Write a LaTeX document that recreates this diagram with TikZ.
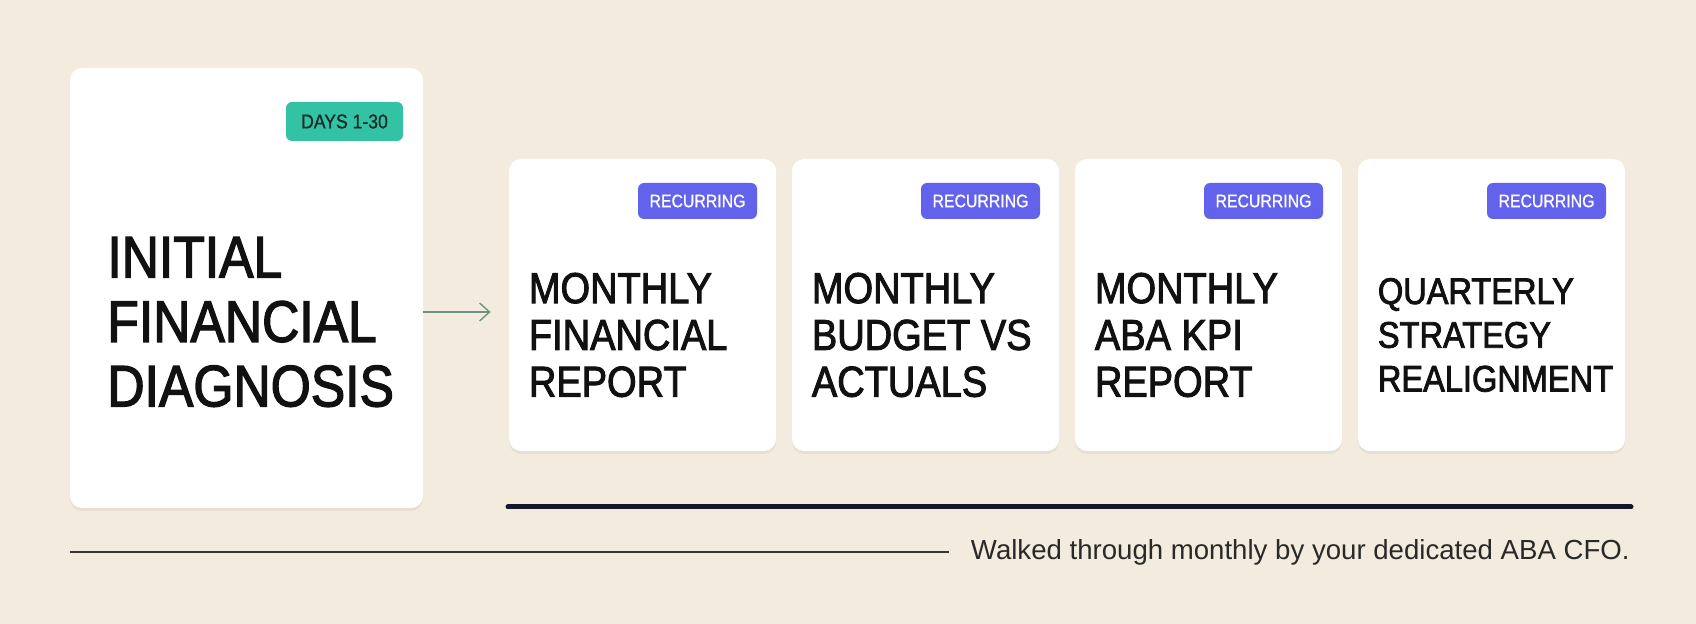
\documentclass[tikz,border=0pt]{standalone}
\usepackage{fontspec}
\setmainfont{Liberation Sans}
\newfontfamily\headfont[FakeStretch=0.88,FakeBold=2.2]{Liberation Sans}
\newfontfamily\tagfont[FakeStretch=0.88,FakeBold=0.8]{Liberation Sans}
\usetikzlibrary{shadows,arrows.meta}

\definecolor{paper}{HTML}{F3ECDE}
\definecolor{ink}{HTML}{111111}
\definecolor{teal}{HTML}{33C2A4}
\definecolor{indigo}{HTML}{6362EC}
\definecolor{sage}{HTML}{6E9484}
\definecolor{navy}{HTML}{16162A}

\tikzset{
	card/.style={fill=white, rounded corners=6pt, inner sep=0pt,
		drop shadow={shadow xshift=0pt, shadow yshift=-1.5pt, opacity=0.05, fill=black}},
	bigcard/.style={card, minimum width=176.5pt, minimum height=220pt},
	smallcard/.style={card, minimum width=133.5pt, minimum height=146pt},
	daysbadge/.style={fill=teal, rounded corners=3pt, inner sep=0pt, minimum width=58.5pt,
		minimum height=19.5pt, text=ink!85!teal, font=\tagfont\fontsize{10}{12}\selectfont},
	recurbadge/.style={fill=indigo, rounded corners=3pt, inner sep=0pt, minimum width=59.5pt,
		minimum height=18pt, text=white, font=\tagfont\fontsize{9}{11}\selectfont},
	bigtitle/.style={inner sep=0pt, align=left, text=ink, font=\headfont\fontsize{29.3}{32.25}\selectfont},
	cardtitle/.style={inner sep=0pt, align=left, text=ink, font=\headfont\fontsize{21.6}{23.4}\selectfont},
	smalltitle/.style={inner sep=0pt, align=left, text=ink, font=\headfont\fontsize{18.5}{21.9}\selectfont},
	foot/.style={inner sep=0pt, text=ink!90, font=\fontsize{13.8}{16}\selectfont},
	flow/.style={draw=sage, line width=0.7pt, -{Straight Barb[length=5pt,width=9pt]}},
	rail/.style={draw=navy, line width=2.5pt, line cap=round},
	lead/.style={draw=ink!85, line width=0.8pt}
}

\begin{document}
\begin{tikzpicture}[x=0.5pt,y=-0.5pt]

\fill[paper] (0,0) rectangle (1696,624);
\useasboundingbox (0,0) rectangle (1696,624);

% first thirty days
\node[bigcard] (diag) at (246.5,288) {};
\node[daysbadge, anchor=north east] (days) at ([xshift=-10pt,yshift=-17pt]diag.north east) {DAYS 1-30};
\node[bigtitle, anchor=west] (diagtext) at (107,322) {INITIAL\\FINANCIAL\\DIAGNOSIS};

% recurring deliverables
\foreach \n/\x/\s/\t in {c1/642.5/cardtitle/{MONTHLY\\FINANCIAL\\REPORT},
	c2/925.5/cardtitle/{MONTHLY\\BUDGET VS\\ACTUALS},
	c3/1208.5/cardtitle/{MONTHLY\\ABA KPI\\REPORT},
	c4/1491.5/smalltitle/{QUARTERLY\\STRATEGY\\REALIGNMENT}}{
	\node[smallcard] (\n) at (\x,305) {};
	\node[recurbadge, anchor=north east] (\n b) at ([xshift=-9.5pt,yshift=-12pt]\n.north east) {RECURRING};
	\node[\s, anchor=west] (\n t) at ({\x-114},335) {\t};
}

\draw[flow] ([yshift=-12pt]diag.east) -- ([xshift=-9pt,yshift=-3.5pt]c1.west);

% timeline
\coordinate (railstart) at (508,507);
\coordinate (railend) at (1631,507);
\draw[rail] (railstart) -- (railend);

\node[foot, anchor=east] (note) at (1630,552) {Walked through monthly by your dedicated ABA CFO.};
\coordinate (leadstart) at (70,552);
\draw[lead] (leadstart) -- ([xshift=-11pt]note.west);

\end{tikzpicture}
\end{document}
